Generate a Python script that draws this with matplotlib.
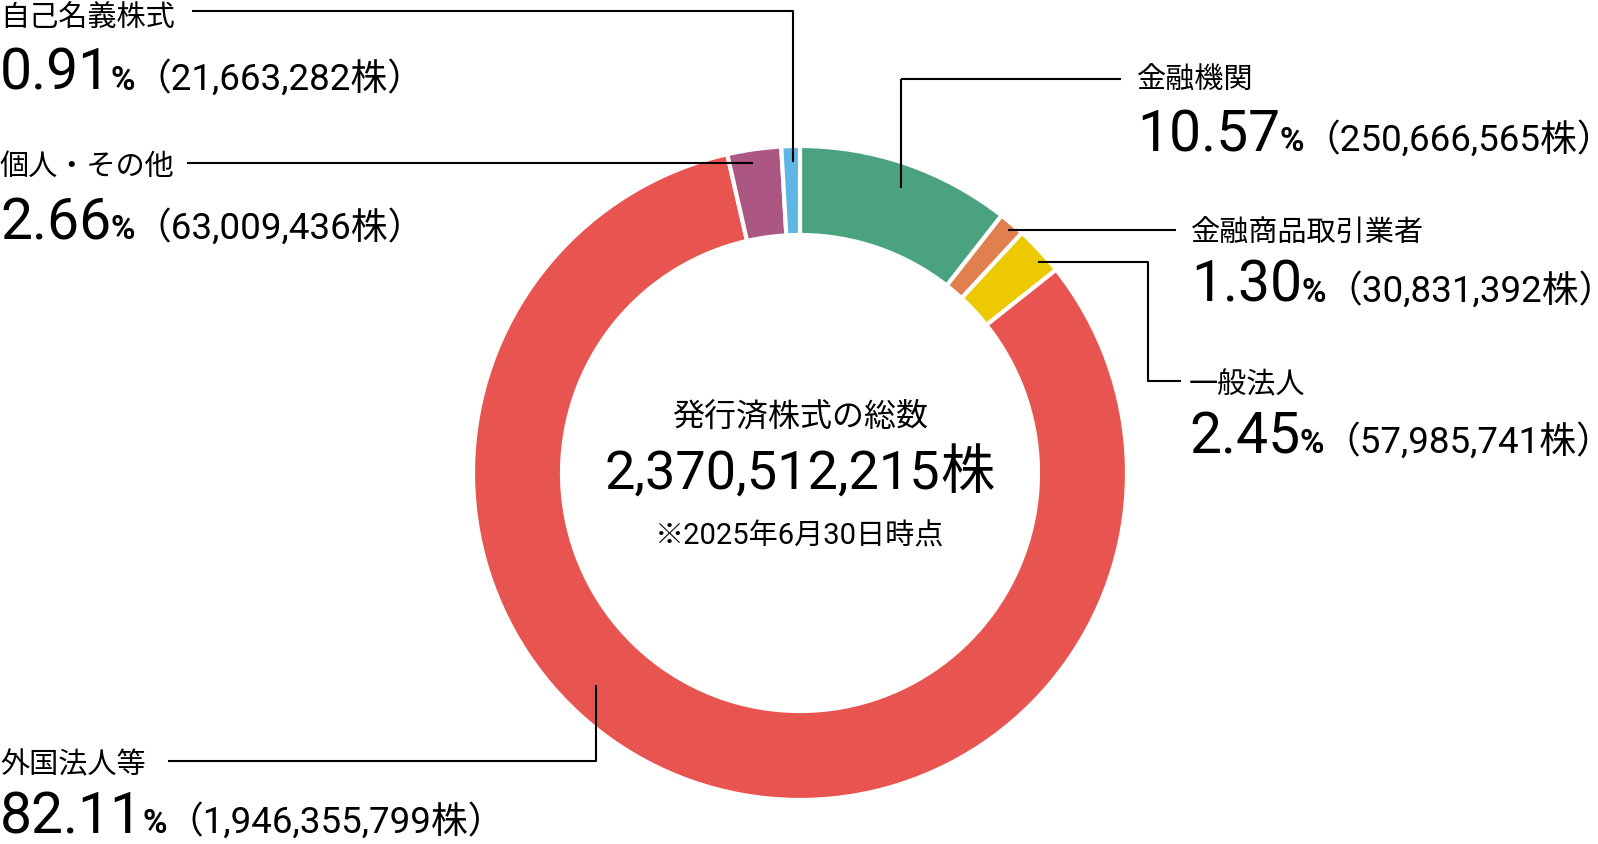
import matplotlib
matplotlib.use("Agg")
import matplotlib.pyplot as plt

# data
categories = ["金融機関", "金融商品取引業者", "一般法人", "外国法人等", "個人・その他", "自己名義株式"]
shares = [250666565, 30831392, 57985741, 1946355799, 63009436, 21663282]
percents = ["10.57", "1.30", "2.45", "82.11", "2.66", "0.91"]
colors = ["#4AA37E", "#E0804F", "#ECC900", "#E85550", "#AC5682", "#5FB5E4"]
total_label = "2,370,512,215"
center_title = "発行済株式の総数"
center_note = "※2025年6月30日時点"

W, H = 1598, 844
FAM = ["Roboto", "Noto Sans CJK JP"]

fig = plt.figure(figsize=(W / 100, H / 100), dpi=100)
ax = fig.add_axes([0, 0, 1, 1])

cx, cy = 800, 473
R_out, R_in = 327, 238
ax.pie(shares, colors=colors, startangle=90, counterclock=False,
       radius=R_out, center=(cx, H - cy),
       wedgeprops=dict(width=R_out - R_in, edgecolor="white", linewidth=3))
ax.set_xlim(0, W)
ax.set_ylim(0, H)
ax.set_aspect("auto")
ax.axis("off")

renderer = fig.canvas.get_renderer()


def fy(y):
    return H - y


def leader(xs, ys):
    ax.plot(xs, [fy(v) for v in ys], color="black", lw=1.5, solid_capstyle="butt")


def value_line(x, base, pct, count):
    parts = [(pct, 41, "normal", 0), ("%", 24, "bold", -1), ("（" + f"{count:,}" + "株）", 26.5, "normal", 0)]
    for s, size, weight, gap in parts:
        x += gap
        t = ax.text(x, fy(base), s, fontsize=size, fontweight=weight,
                    family=FAM, ha="left", va="baseline", color="black")
        bb = t.get_window_extent(renderer)
        x = bb.x1


def name(x, yc, s):
    ax.text(x, fy(yc), s, fontsize=21, family=FAM, ha="left", va="center", color="black")


# layout: label x, label center y, value baseline y
layout = {
    "金融機関": (1137, 81, 151),
    "金融商品取引業者": (1191, 234, 302),
    "一般法人": (1189, 385, 453),
    "外国法人等": (0, 765, 833),
    "個人・その他": (0, 167, 239),
    "自己名義株式": (0, 19, 90),
}
for cat, n, p in zip(categories, shares, percents):
    lx, ly, vb = layout[cat]
    name(lx, ly, cat)
    value_line(lx, vb, p, n)

# leader lines
leader([901, 1121], [79, 79])
leader([901, 901], [79, 188])
leader([1008, 1176], [230, 230])
leader([1038, 1148, 1148, 1181], [262, 262, 381, 381])
leader([168, 596, 596], [761, 761, 685])
leader([187, 753], [163, 163])
leader([192, 793, 793], [11, 11, 162])

# center text
ax.text(cx, fy(416), center_title, fontsize=23, family=FAM, ha="center", va="center")
ax.text(cx - 28, fy(489), total_label, fontsize=39, family=FAM, ha="center", va="baseline")
ax.text(cx + 140, fy(489), "株", fontsize=39, family=FAM, ha="left", va="baseline")
ax.text(cx, fy(536), center_note, fontsize=21, family=FAM, ha="center", va="center")

fig.savefig("out.png", dpi=100, facecolor="white")
